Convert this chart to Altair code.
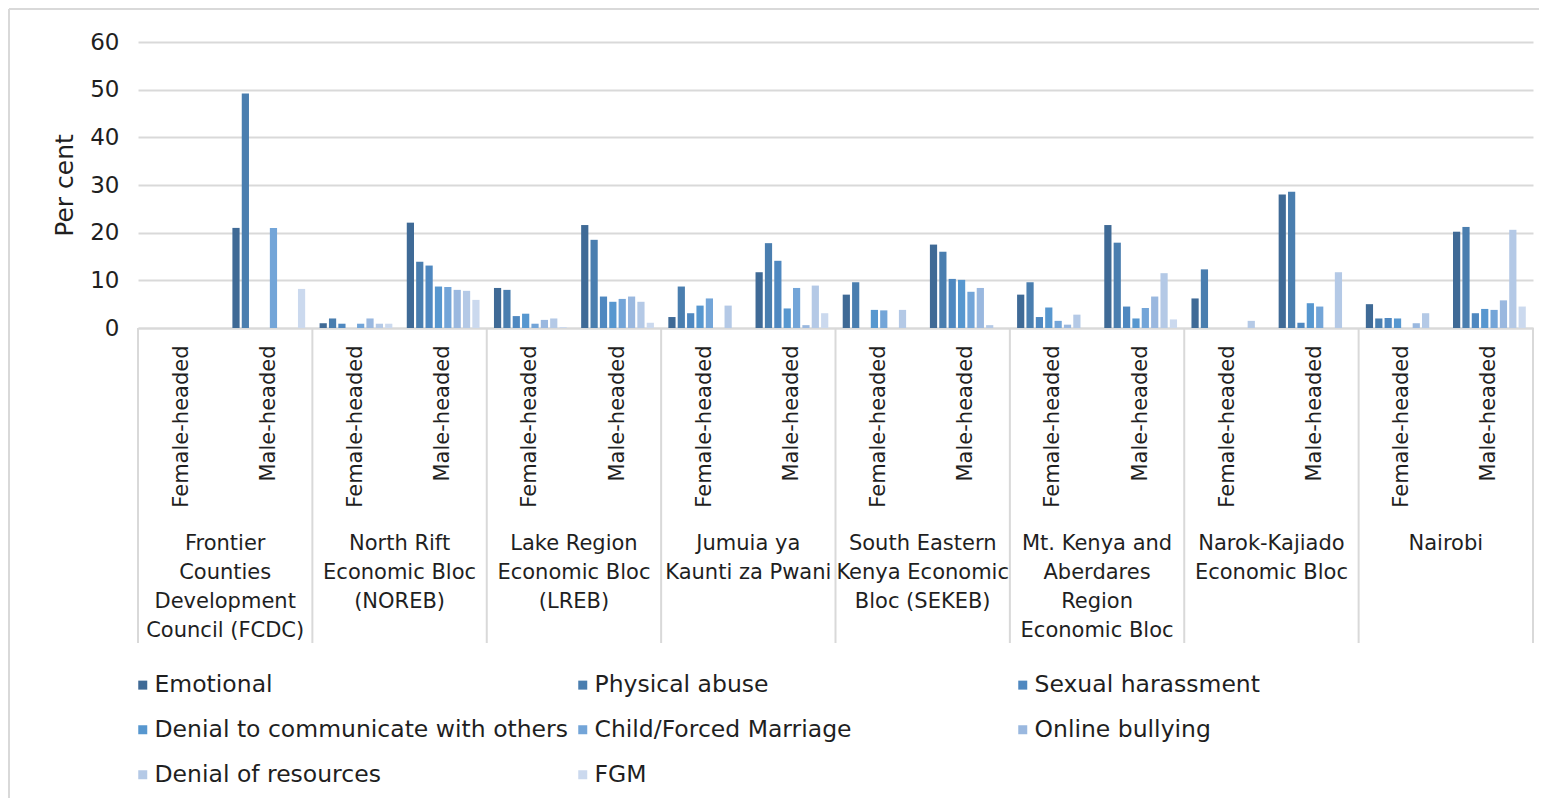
import altair as alt
import pandas as pd

regions = [
    "Frontier Counties Development Council (FCDC)",
    "North Rift Economic Bloc (NOREB)",
    "Lake Region Economic Bloc (LREB)",
    "Jumuia ya Kaunti za Pwani",
    "South Eastern Kenya Economic Bloc (SEKEB)",
    "Mt. Kenya and Aberdares Region Economic Bloc",
    "Narok-Kajiado Economic Bloc",
    "Nairobi",
]
region_lines = [
    ["Frontier", "Counties", "Development", "Council (FCDC)"],
    ["North Rift", "Economic Bloc", "(NOREB)"],
    ["Lake Region", "Economic Bloc", "(LREB)"],
    ["Jumuia ya", "Kaunti za Pwani"],
    ["South Eastern", "Kenya Economic", "Bloc (SEKEB)"],
    ["Mt. Kenya and", "Aberdares", "Region", "Economic Bloc"],
    ["Narok-Kajiado", "Economic Bloc"],
    ["Nairobi"],
]
heads = ["Female-headed", "Male-headed"]

series = [
    "Emotional",
    "Physical abuse",
    "Sexual harassment",
    "Denial to communicate with others",
    "Child/Forced Marriage",
    "Online bullying",
    "Denial of resources",
    "FGM",
]
colors = ["#3f6a96", "#4a7eaf", "#4f88c0", "#5797cf", "#73a5d8", "#9ab8df", "#b4c9e6", "#cbd9ee"]

# order: per region -> Female-headed, Male-headed
emotional = [0, 21.0, 1.0, 22.1, 8.4, 21.6, 2.3, 11.7, 7.0, 17.5, 7.0, 21.6, 6.2, 28.0, 5.0, 20.2]
physical = [0, 49.2, 2.0, 13.9, 8.0, 18.5, 8.7, 17.8, 9.6, 16.0, 9.6, 17.9, 12.3, 28.6, 2.0, 21.2]
sexual = [0, 0, 0.9, 13.1, 2.5, 6.6, 3.1, 14.1, 0, 10.3, 2.3, 4.5, 0, 1.1, 2.1, 3.1]
denial_comm = [0, 0, 0, 8.7, 3.0, 5.5, 4.7, 4.1, 3.8, 10.1, 4.3, 2.0, 0, 5.2, 2.0, 4.0]
child_marriage = [0, 21.0, 0.9, 8.6, 0.9, 6.1, 6.2, 8.4, 3.7, 7.6, 1.5, 4.2, 0, 4.5, 0, 3.8]
online = [0, 0, 2.0, 8.0, 1.7, 6.6, 0, 0.6, 0, 8.4, 0.7, 6.6, 0, 0, 1.0, 5.8]
denial_res = [0, 0, 0.9, 7.8, 2.0, 5.5, 4.7, 8.9, 3.8, 0.6, 2.8, 11.5, 1.5, 11.7, 3.1, 20.6]
fgm = [0, 8.2, 0.9, 5.9, 0.2, 1.1, 0, 3.1, 0, 0, 0, 1.8, 0, 0, 0, 4.5]
values = [emotional, physical, sexual, denial_comm, child_marriage, online, denial_res, fgm]

y_ticks = [0, 10, 20, 30, 40, 50, 60]

cats = [f"{r}|{h}" for r in regions for h in heads]

rows = []
for s, vals in zip(series, values):
    for c, v in zip(cats, vals):
        rows.append({"cat": c, "series": s, "value": v})
df = pd.DataFrame(rows)

reg_df = pd.DataFrame({"cat": [f"{r}|{heads[0]}" for r in regions],
                       "lines": region_lines})
last_df = pd.DataFrame({"cat": [cats[-1]]})

FONT = "DejaVu Sans"
TXT = "#1f1f1f"
GRID = "#d9d9d9"
PLOT_H = 286

xscale = alt.Scale(domain=cats, paddingInner=0, paddingOuter=0)

bars = alt.Chart(df).mark_bar().encode(
    x=alt.X("cat:N", scale=xscale, title=None,
            axis=alt.Axis(labelExpr="split(datum.value, '|')[1]", labelAngle=-90,
                          labelPadding=17, labelFontSize=21, labelFont=FONT,
                          labelColor=TXT, ticks=False, domainColor=GRID,
                          domainWidth=2, labelLimit=400)),
    xOffset=alt.XOffset("series:N", scale=alt.Scale(domain=series, paddingInner=0.23, paddingOuter=0.77)),
    y=alt.Y("value:Q", scale=alt.Scale(domain=[0, 60]), title="Per cent",
            axis=alt.Axis(values=y_ticks, labelFontSize=23, labelFont=FONT, labelColor=TXT,
                          labelPadding=19, ticks=False, domain=False, gridColor=GRID,
                          gridWidth=2, titleFontSize=25, titleFont=FONT, titleColor=TXT,
                          titleFontWeight="normal", titlePadding=12)),
    color=alt.Color("series:N", scale=alt.Scale(domain=series, range=colors), title=None,
                    legend=alt.Legend(orient="none", legendX=-7, legendY=631, columns=3,
                                      direction="horizontal", gridAlign="all",
                                      columnPadding=3, rowPadding=20, symbolType="square",
                                      symbolSize=81, symbolStrokeWidth=0, labelOffset=0,
                                      labelFontSize=23.5, labelFont=FONT, labelColor=TXT,
                                      labelLimit=600, padding=0)),
)

seps = alt.Chart(reg_df).mark_rule(color=GRID, strokeWidth=2).encode(
    x=alt.X("cat:N", scale=xscale, bandPosition=0),
    y=alt.value(PLOT_H), y2=alt.value(601),
)
sep_last = alt.Chart(last_df).mark_rule(color=GRID, strokeWidth=2).encode(
    x=alt.X("cat:N", scale=xscale, bandPosition=1),
    y=alt.value(PLOT_H), y2=alt.value(601),
)

reg_text = alt.Chart(reg_df).mark_text(font=FONT, fontSize=21, color=TXT, baseline="top",
                                       align="center", lineHeight=29).encode(
    x=alt.X("cat:N", scale=xscale, bandPosition=1),
    y=alt.value(491),
    text="lines",
)

frame_top = alt.Chart(last_df).mark_rule(color=GRID, strokeWidth=2).encode(
    x=alt.value(-129), x2=alt.value(1420), y=alt.value(-33)
)
frame_left = alt.Chart(last_df).mark_rule(color=GRID, strokeWidth=2).encode(
    x=alt.value(-129), y=alt.value(-33), y2=alt.value(780)
)

chart = alt.layer(frame_top, frame_left, bars, seps, sep_last, reg_text).properties(
    width=1395, height=PLOT_H,
    autosize=alt.AutoSizeParams(type="none"),
    padding={"left": 130, "top": 34, "right": 6, "bottom": 470},
).configure(font=FONT).configure_view(stroke=None)

chart.save("out.html", embed_options={"renderer": "svg", "actions": False})
